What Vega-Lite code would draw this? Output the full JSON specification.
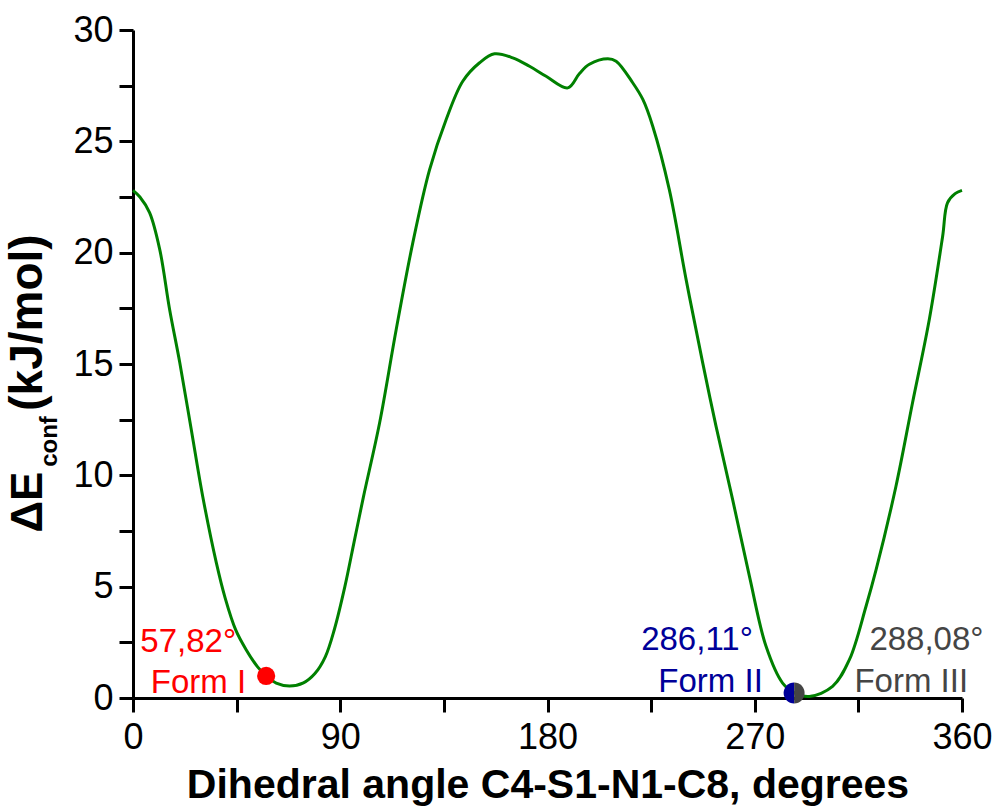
{
  "$schema": "https://vega.github.io/schema/vega-lite/v6.json",
  "width": 829,
  "height": 668,
  "autosize": {"type": "none"},
  "padding": {"left": 133, "top": 30, "right": 35, "bottom": 110},
  "background": "white",
  "config": {
    "view": {"stroke": null},
    "axis": {
      "grid": false,
      "domainColor": "#000000",
      "domainWidth": 3,
      "tickColor": "#000000",
      "tickWidth": 3,
      "tickSize": 14,
      "labelFont": "Liberation Sans",
      "labelFontSize": 36,
      "labelColor": "#000000",
      "titleFont": "Liberation Sans",
      "titleFontSize": 41,
      "titleFontWeight": "bold",
      "titleColor": "#000000",
      "labelOverlap": false,
      "labelFlush": false
    },
    "text": {"font": "Liberation Sans"}
  },
  "datasets": {
    "curve": [
      {"angle": 0, "energy": 22.8},
      {"angle": 3, "energy": 22.5},
      {"angle": 7.2, "energy": 21.8},
      {"angle": 11.6, "energy": 20.15},
      {"angle": 15.9, "energy": 17.45},
      {"angle": 20.3, "energy": 15.07},
      {"angle": 25.3, "energy": 12.06},
      {"angle": 30.3, "energy": 9.04},
      {"angle": 36.2, "energy": 6.07},
      {"angle": 40.0, "energy": 4.5},
      {"angle": 44.6, "energy": 3.06},
      {"angle": 49.2, "energy": 2.16},
      {"angle": 54.1, "energy": 1.4},
      {"angle": 57.9, "energy": 0.99},
      {"angle": 62.2, "energy": 0.67},
      {"angle": 68.0, "energy": 0.54},
      {"angle": 74.0, "energy": 0.68},
      {"angle": 79.0, "energy": 1.1},
      {"angle": 83.5, "energy": 1.85},
      {"angle": 87.5, "energy": 3.1},
      {"angle": 92.0, "energy": 5.0},
      {"angle": 96.0, "energy": 7.0},
      {"angle": 100.0, "energy": 9.0},
      {"angle": 107.1, "energy": 12.36},
      {"angle": 114.3, "energy": 16.55},
      {"angle": 121.5, "energy": 20.44},
      {"angle": 128.8, "energy": 23.73},
      {"angle": 136.0, "energy": 25.98},
      {"angle": 143.2, "energy": 27.7},
      {"angle": 150.5, "energy": 28.53},
      {"angle": 157.0, "energy": 28.93},
      {"angle": 164.9, "energy": 28.75},
      {"angle": 172.2, "energy": 28.37},
      {"angle": 179.4, "energy": 27.92},
      {"angle": 188.8, "energy": 27.4},
      {"angle": 193.9, "energy": 28.05},
      {"angle": 198.2, "energy": 28.46},
      {"angle": 206.2, "energy": 28.71},
      {"angle": 209.8, "energy": 28.6},
      {"angle": 217.0, "energy": 27.63},
      {"angle": 221.4, "energy": 26.88},
      {"angle": 225.7, "energy": 25.68},
      {"angle": 232.9, "energy": 22.83},
      {"angle": 240.2, "energy": 18.79},
      {"angle": 247.4, "energy": 15.05},
      {"angle": 253.2, "energy": 12.2},
      {"angle": 260.4, "energy": 8.91},
      {"angle": 267.7, "energy": 5.46},
      {"angle": 274.9, "energy": 2.32},
      {"angle": 282.1, "energy": 0.67},
      {"angle": 287.5, "energy": 0.22},
      {"angle": 293.7, "energy": 0.07},
      {"angle": 303.8, "energy": 0.52},
      {"angle": 311.1, "energy": 1.72},
      {"angle": 318.3, "energy": 4.11},
      {"angle": 322.7, "energy": 5.76},
      {"angle": 331.3, "energy": 9.5},
      {"angle": 338.5, "energy": 13.25},
      {"angle": 345.8, "energy": 17.0},
      {"angle": 351.6, "energy": 20.74},
      {"angle": 353.7, "energy": 22.24},
      {"angle": 357, "energy": 22.65},
      {"angle": 360, "energy": 22.8}
    ],
    "forms": [
      {"form": "Form I", "angle": 57.82, "energy": 0.99, "angleLabel": "57,82°"},
      {"form": "Form II", "angle": 286.11, "energy": 0.22, "angleLabel": "286,11°"},
      {"form": "Form III", "angle": 288.08, "energy": 0.22, "angleLabel": "288,08°"}
    ]
  },
  "layer": [
    {
      "data": {"name": "curve"},
      "mark": {"type": "line", "color": "#008000", "strokeWidth": 3, "interpolate": "catmull-rom"},
      "encoding": {
        "x": {
          "field": "angle", "type": "quantitative",
          "scale": {"domain": [0, 360], "nice": false, "zero": false},
          "axis": {
            "values": [0, 45, 90, 135, 180, 225, 270, 315, 360],
            "labelExpr": "datum.value % 90 === 0 ? datum.label : ''",
            "encode": {"ticks": {"update": {"y": {"value": 0}, "y2": {"signal": "datum.value % 90 === 0 ? 14 : 7"}, "stroke": {"value": "#000000"}, "strokeWidth": {"value": 3}}}},
            "labelPadding": 8,
            "title": "Dihedral angle C4-S1-N1-C8, degrees",
            "titlePadding": 10
          }
        },
        "y": {
          "field": "energy", "type": "quantitative",
          "scale": {"domain": [0, 30], "nice": false},
          "axis": {
            "values": [0, 2.5, 5, 7.5, 10, 12.5, 15, 17.5, 20, 22.5, 25, 27.5, 30],
            "labelExpr": "datum.value % 5 === 0 ? datum.label : ''",
            "encode": {"ticks": {"update": {"x": {"value": 0}, "x2": {"signal": "datum.value % 5 === 0 ? -14 : -7"}, "stroke": {"value": "#000000"}, "strokeWidth": {"value": 3}}}},
            "labelPadding": 6,
            "title": null
          }
        }
      }
    },
    {
      "data": {"name": "forms"},
      "transform": [{"filter": "datum.form === 'Form I'"}],
      "mark": {"type": "point", "filled": true, "opacity": 1, "shape": "circle", "size": 330, "color": "#ff0000"},
      "encoding": {
        "x": {"field": "angle", "type": "quantitative", "scale": {"domain": [0, 360]}},
        "y": {"field": "energy", "type": "quantitative", "scale": {"domain": [0, 30]}}
      }
    },
    {
      "data": {"name": "forms"},
      "transform": [{"filter": "datum.form === 'Form II'"}],
      "mark": {"type": "point", "filled": true, "opacity": 1, "shape": "M 0.214 -1 A 1 1 0 0 0 0.214 1 Z", "size": 441, "color": "#000099"},
      "encoding": {
        "x": {"field": "angle", "type": "quantitative", "scale": {"domain": [0, 360]}},
        "y": {"field": "energy", "type": "quantitative", "scale": {"domain": [0, 30]}}
      }
    },
    {
      "data": {"name": "forms"},
      "transform": [{"filter": "datum.form === 'Form III'"}],
      "mark": {"type": "point", "filled": true, "opacity": 1, "shape": "M -0.214 -1 A 1 1 0 0 1 -0.214 1 Z", "size": 441, "color": "#454545"},
      "encoding": {
        "x": {"field": "angle", "type": "quantitative", "scale": {"domain": [0, 360]}},
        "y": {"field": "energy", "type": "quantitative", "scale": {"domain": [0, 30]}}
      }
    },
    {
      "data": {"name": "forms"},
      "transform": [{"filter": "datum.form === 'Form I'"}],
      "mark": {"type": "text", "fontSize": 33, "color": "#ff0000", "align": "right", "baseline": "alphabetic", "dx": -30, "dy": -24},
      "encoding": {
        "x": {"field": "angle", "type": "quantitative", "scale": {"domain": [0, 360]}},
        "y": {"field": "energy", "type": "quantitative", "scale": {"domain": [0, 30]}},
        "text": {"field": "angleLabel"}
      }
    },
    {
      "data": {"name": "forms"},
      "transform": [{"filter": "datum.form === 'Form I'"}],
      "mark": {"type": "text", "fontSize": 33, "color": "#ff0000", "align": "right", "baseline": "alphabetic", "dx": -20, "dy": 17},
      "encoding": {
        "x": {"field": "angle", "type": "quantitative", "scale": {"domain": [0, 360]}},
        "y": {"field": "energy", "type": "quantitative", "scale": {"domain": [0, 30]}},
        "text": {"field": "form"}
      }
    },
    {
      "data": {"name": "forms"},
      "transform": [{"filter": "datum.form === 'Form II'"}],
      "mark": {"type": "text", "fontSize": 33, "color": "#000099", "align": "right", "baseline": "alphabetic", "dx": -39, "dy": -43},
      "encoding": {
        "x": {"field": "angle", "type": "quantitative", "scale": {"domain": [0, 360]}},
        "y": {"field": "energy", "type": "quantitative", "scale": {"domain": [0, 30]}},
        "text": {"field": "angleLabel"}
      }
    },
    {
      "data": {"name": "forms"},
      "transform": [{"filter": "datum.form === 'Form II'"}],
      "mark": {"type": "text", "fontSize": 33, "color": "#000099", "align": "right", "baseline": "alphabetic", "dx": -29, "dy": -1},
      "encoding": {
        "x": {"field": "angle", "type": "quantitative", "scale": {"domain": [0, 360]}},
        "y": {"field": "energy", "type": "quantitative", "scale": {"domain": [0, 30]}},
        "text": {"field": "form"}
      }
    },
    {
      "data": {"name": "forms"},
      "transform": [{"filter": "datum.form === 'Form III'"}],
      "mark": {"type": "text", "fontSize": 33, "color": "#454545", "align": "left", "baseline": "alphabetic", "dx": 73, "dy": -43},
      "encoding": {
        "x": {"field": "angle", "type": "quantitative", "scale": {"domain": [0, 360]}},
        "y": {"field": "energy", "type": "quantitative", "scale": {"domain": [0, 30]}},
        "text": {"field": "angleLabel"}
      }
    },
    {
      "data": {"name": "forms"},
      "transform": [{"filter": "datum.form === 'Form III'"}],
      "mark": {"type": "text", "fontSize": 33, "color": "#454545", "align": "left", "baseline": "alphabetic", "dx": 58, "dy": -1},
      "encoding": {
        "x": {"field": "angle", "type": "quantitative", "scale": {"domain": [0, 360]}},
        "y": {"field": "energy", "type": "quantitative", "scale": {"domain": [0, 30]}},
        "text": {"field": "form"}
      }
    },
    {
      "data": {"values": [{}]},
      "mark": {"type": "text", "text": "ΔE", "fontSize": 44, "fontWeight": "bold", "color": "#000000", "angle": 270, "align": "left", "baseline": "alphabetic"},
      "encoding": {
        "x": {"datum": -39.6, "type": "quantitative", "scale": {"domain": [0, 360]}},
        "y": {"datum": 7.43, "type": "quantitative", "scale": {"domain": [0, 30]}}
      }
    },
    {
      "data": {"values": [{}]},
      "mark": {"type": "text", "text": "conf", "fontSize": 24, "fontWeight": "bold", "color": "#000000", "angle": 270, "align": "left", "baseline": "alphabetic"},
      "encoding": {
        "x": {"datum": -33.1, "type": "quantitative", "scale": {"domain": [0, 360]}},
        "y": {"datum": 10.38, "type": "quantitative", "scale": {"domain": [0, 30]}}
      }
    },
    {
      "data": {"values": [{}]},
      "mark": {"type": "text", "text": "(kJ/mol)", "fontSize": 46, "fontWeight": "bold", "color": "#000000", "angle": 270, "align": "left", "baseline": "alphabetic"},
      "encoding": {
        "x": {"datum": -39.6, "type": "quantitative", "scale": {"domain": [0, 360]}},
        "y": {"datum": 12.9, "type": "quantitative", "scale": {"domain": [0, 30]}}
      }
    }
  ]
}
